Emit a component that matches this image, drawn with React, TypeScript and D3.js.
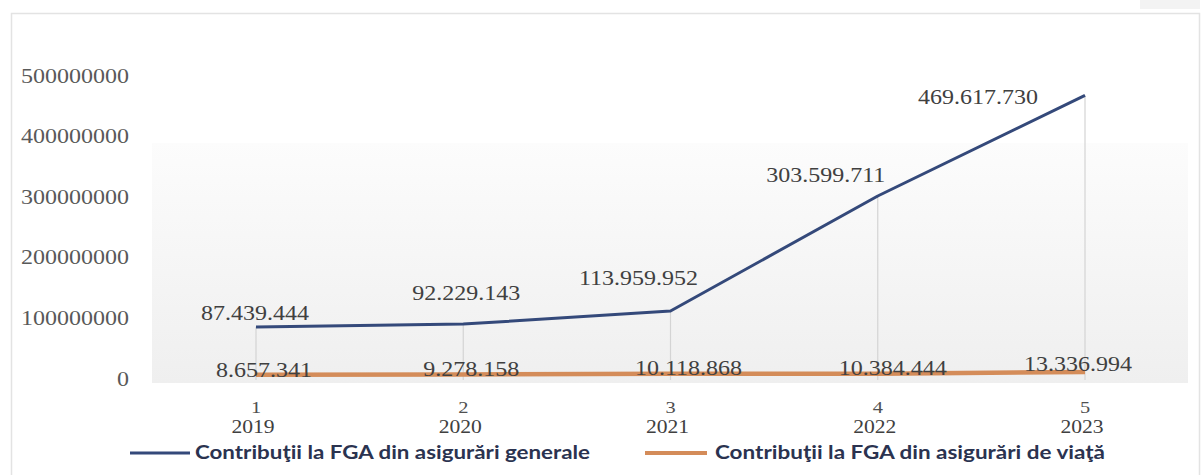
import React from "react";
import * as d3 from "d3";

const years = ["2019", "2020", "2021", "2022", "2023"];
const indexLabels = ["1", "2", "3", "4", "5"];
const generalValues = [87439444, 92229143, 113959952, 303599711, 469617730];
const lifeValues = [8657341, 9278158, 10118868, 10384444, 13336994];
const yTicks = [0, 100000000, 200000000, 300000000, 400000000, 500000000];
const seriesNames = [
  "Contribuţii la FGA din asigurări generale",
  "Contribuţii la FGA din asigurări de viaţă",
];

// label nudges (layout only)
const generalLabelNudge: [number, number][] = [
  [-1, -14], [3, -31], [-32, -33], [-52, -21], [-107, 2],
];
const lifeLabelNudge: [number, number][] = [
  [8, -5], [8, -5], [18, -6], [15, -6], [-7, -8],
];

const W = 1202;
const H = 475;
const plot = { left: 152, right: 1188, top: 143, bottom: 383 };

const BLUE = "#34497a";
const ORANGE = "#d48c59";
const SERIF = "Liberation Serif, Times New Roman, serif";
const SANS = "Lato, Open Sans, sans-serif";
const SX = 1.2;

const fmt = d3
  .formatLocale({ thousands: ".", grouping: [3], decimal: ",", currency: ["", ""] })
  .format(",d");

function SText({ x, y, children, anchor = "middle", fill = "#404040", size = 20, dy = "0.35em" }: any) {
  return (
    <text
      transform={`translate(${x},${y}) scale(${SX},1)`}
      textAnchor={anchor}
      dy={dy}
      fill={fill}
      fontFamily={SERIF}
      fontSize={size}
    >
      {children}
    </text>
  );
}

export default function App() {
  const x = d3.scalePoint<string>().domain(years).range([256, 1085]);
  const y = d3.scaleLinear().domain([0, 500000000]).range([380, 77]);

  const line = d3
    .line<number>()
    .x((_, i) => x(years[i]) as number)
    .y((d) => y(d));

  return (
    <svg
      width={W}
      height={H}
      style={{ position: "fixed", left: 0, top: 0, background: "#fff" }}
    >
      <defs>
        <linearGradient id="plotbg" x1="0" y1="0" x2="0" y2="1">
          <stop offset="0" stopColor="#fcfcfc" />
          <stop offset="1" stopColor="#efefef" />
        </linearGradient>
      </defs>

      {/* chart frame */}
      <rect x={11.5} y={13.5} width={1188} height={470} fill="#fff" stroke="#e3e3e3" strokeWidth={1.5} />
      <rect x={1140} y={0} width={60} height={9} fill="#f3f3f3" />

      {/* plot area */}
      <rect
        x={plot.left}
        y={plot.top}
        width={plot.right - plot.left}
        height={plot.bottom - plot.top}
        fill="url(#plotbg)"
      />

      {/* drop lines */}
      {generalValues.map((v, i) => (
        <line
          key={"drop" + i}
          x1={x(years[i])}
          x2={x(years[i])}
          y1={y(v)}
          y2={y(0)}
          stroke="#d4d4d4"
          strokeWidth={1.2}
        />
      ))}

      {/* y axis labels */}
      {yTicks.map((t) => (
        <SText key={"yt" + t} x={129} y={y(t)} anchor="end" fill="#595959" dy="0.28em">
          {String(t)}
        </SText>
      ))}

      {/* series lines */}
      <path d={line(lifeValues) || ""} fill="none" stroke={ORANGE} strokeWidth={4.5} />
      <path d={line(generalValues) || ""} fill="none" stroke={BLUE} strokeWidth={3} strokeLinejoin="round" />

      {/* data labels */}
      {generalValues.map((v, i) => (
        <SText
          key={"gl" + i}
          x={(x(years[i]) as number) + generalLabelNudge[i][0]}
          y={y(v) + generalLabelNudge[i][1]}
          fill="#404040"
        >
          {fmt(v)}
        </SText>
      ))}
      {lifeValues.map((v, i) => (
        <SText
          key={"ll" + i}
          x={(x(years[i]) as number) + lifeLabelNudge[i][0]}
          y={y(v) + lifeLabelNudge[i][1]}
          fill="#404040"
        >
          {fmt(v)}
        </SText>
      ))}

      {/* category labels */}
      {years.map((yr, i) => (
        <g key={"cat" + yr}>
          <SText x={x(yr)} y={407} fill="#505050" size={17}>
            {indexLabels[i]}
          </SText>
          <SText x={(x(yr) as number) - 3} y={427} fill="#404040" size={18}>
            {yr}
          </SText>
        </g>
      ))}

      {/* legend */}
      <line x1={130} x2={190} y1={453} y2={453} stroke={BLUE} strokeWidth={3} />
      <text
        x={195}
        y={453}
        dy="0.35em"
        fontFamily={SANS}
        fontWeight={700}
        fontSize={18}
        fill="#2b3350"
        textLength={395}
        lengthAdjust="spacingAndGlyphs"
      >
        {seriesNames[0]}
      </text>
      <line x1={645} x2={707} y1={453} y2={453} stroke={ORANGE} strokeWidth={4} />
      <text
        x={715}
        y={453}
        dy="0.35em"
        fontFamily={SANS}
        fontWeight={700}
        fontSize={18}
        fill="#2b3350"
        textLength={390}
        lengthAdjust="spacingAndGlyphs"
      >
        {seriesNames[1]}
      </text>
    </svg>
  );
}
